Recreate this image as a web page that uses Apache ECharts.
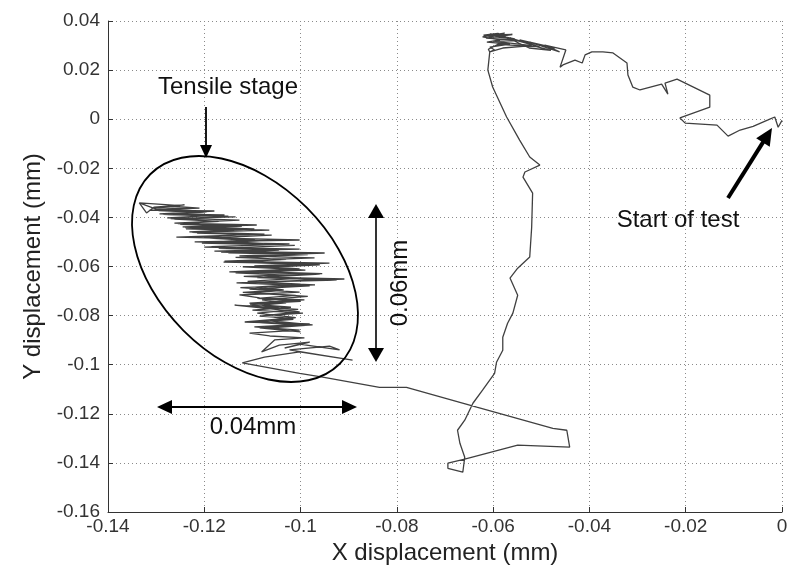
<!DOCTYPE html>
<html>
<head>
<meta charset="utf-8">
<script src="https://cdn.jsdelivr.net/npm/echarts@6/dist/echarts.min.js"></script>
<style>html,body{margin:0;padding:0;background:#fff}#c{width:791px;height:574px}</style>
</head>
<body>
<div id="c"></div>
<script>
// ---- axis definition ----
const xTickLabels = ['-0.14','-0.12','-0.1','-0.08','-0.06','-0.04','-0.02','0'];
const yTickLabels = ['-0.16','-0.14','-0.12','-0.1','-0.08','-0.06','-0.04','-0.02','0','0.02','0.04'];
const xTitle = 'X displacement (mm)';
const yTitle = 'Y displacement (mm)';

// ---- trajectory (x mm, y mm) ----
const startSeg = [
  [0.0000,-0.0005],[-0.0008,-0.0033],[-0.0015,0.0009],[-0.0029,-0.0003],[-0.0060,-0.0029],
  [-0.0087,-0.0044],[-0.0112,-0.0069],[-0.0135,-0.0024],[-0.0201,-0.0016],[-0.0212,0.0005],
  [-0.0150,0.0049],[-0.0150,0.0098],[-0.0218,0.0163],[-0.0243,0.0147],[-0.0237,0.0102],
  [-0.0250,0.0143],[-0.0295,0.0119],[-0.0310,0.0131],[-0.0320,0.0180],[-0.0322,0.0229],
  [-0.0351,0.0270],[-0.0372,0.0274],[-0.0395,0.0274],[-0.0409,0.0262],[-0.0415,0.0229],
  [-0.0430,0.0241],[-0.0455,0.0221],[-0.0461,0.0212]
];
const topCluster = [
  [-0.0449,0.0282],[-0.0493,0.0302],[-0.0462,0.0274],[-0.0524,0.0314],[-0.0472,0.0290],
  [-0.0545,0.0323],[-0.0503,0.0294],[-0.0565,0.0331],[-0.0524,0.0306],[-0.0586,0.0339],
  [-0.0538,0.0314],[-0.0607,0.0347],[-0.0555,0.0327],[-0.0617,0.0339],[-0.0576,0.0351],
  [-0.0622,0.0335],[-0.0586,0.0323],[-0.0613,0.0314],[-0.0565,0.0306],[-0.0607,0.0294],
  [-0.0597,0.0282],[-0.0607,0.0274],[-0.0580,0.0290],[-0.0520,0.0300],[-0.0600,0.0318],
  [-0.0540,0.0320],[-0.0615,0.0330],[-0.0560,0.0345],[-0.0620,0.0342],[-0.0590,0.0350],
  [-0.0525,0.0290],[-0.0480,0.0280],[-0.0510,0.0296],[-0.0590,0.0305],[-0.0610,0.0285],
  [-0.0607,0.0274]
];
const descentSeg = [
  [-0.0611,0.0200],[-0.0601,0.0131],[-0.0572,0.0009],[-0.0545,-0.0085],[-0.0524,-0.0154],
  [-0.0503,-0.0187],[-0.0534,-0.0215],[-0.0538,-0.0236],[-0.0518,-0.0301],[-0.0520,-0.0441],
  [-0.0524,-0.0561],[-0.0549,-0.0607],[-0.0565,-0.0647],[-0.0549,-0.0717],[-0.0559,-0.0790],
  [-0.0570,-0.0831],[-0.0580,-0.0888],[-0.0580,-0.0941],[-0.0593,-0.0990],[-0.0597,-0.1035],
  [-0.0622,-0.1104],[-0.0642,-0.1157],[-0.0659,-0.1226],[-0.0674,-0.1267],[-0.0669,-0.1320],
  [-0.0659,-0.1377],[-0.0663,-0.1438],[-0.0694,-0.1422],[-0.0694,-0.1401],[-0.0659,-0.1385]
];
const returnSeg = [
  [-0.0549,-0.1328],[-0.0441,-0.1336],[-0.0447,-0.1267],[-0.0476,-0.1259],[-0.0634,-0.1173],
  [-0.0780,-0.1092],[-0.0836,-0.1092],[-0.0954,-0.1051],[-0.1002,-0.1035],[-0.1121,-0.0993]
];
// tensile stage: up the band, back down to the middle, up again to the tip
const tensileUp1 = [
  [-0.1075,-0.0969],[-0.1002,-0.0948],[-0.0892,-0.0981],[-0.0960,-0.0960],[-0.1023,-0.0940],
  [-0.0940,-0.0924],[-0.0919,-0.0940],[-0.1002,-0.0916],[-0.1033,-0.0932],[-0.0981,-0.0908],
  [-0.1044,-0.0920],[-0.1081,-0.0948],[-0.1054,-0.0899],[-0.0992,-0.0891],[-0.1064,-0.0883],
  [-0.1106,-0.0871],[-0.1002,-0.0859],[-0.1096,-0.0846],[-0.0981,-0.0834],[-0.1116,-0.0826],
  [-0.1023,-0.0810],[-0.1085,-0.0802],[-0.1002,-0.0785],[-0.1137,-0.0757],[-0.1044,-0.0769],
  [-0.1106,-0.0749],[-0.0992,-0.0736],[-0.1085,-0.0728],[-0.1127,-0.0716],[-0.1002,-0.0704],
  [-0.1106,-0.0692],[-0.0981,-0.0679],[-0.1133,-0.0667],[-0.0909,-0.0651],[-0.1075,-0.0643],
  [-0.0960,-0.0631],[-0.1148,-0.0622],[-0.1002,-0.0610],[-0.1096,-0.0598],[-0.0940,-0.0586],
  [-0.1158,-0.0578],[-0.0971,-0.0565],[-0.1127,-0.0557],[-0.0950,-0.0545],[-0.1179,-0.0537],
  [-0.1002,-0.0529],[-0.1200,-0.0521],[-0.1023,-0.0508],[-0.1220,-0.0500],[-0.1002,-0.0492],
  [-0.1258,-0.0480],[-0.1075,-0.0468],[-0.1231,-0.0459],[-0.1096,-0.0447],[-0.1245,-0.0439],
  [-0.1091,-0.0431],[-0.1262,-0.0423],[-0.1127,-0.0411],[-0.1277,-0.0402],[-0.1158,-0.0390],
  [-0.1293,-0.0386],[-0.1179,-0.0374],[-0.1314,-0.0370],[-0.1210,-0.0362],[-0.1268,-0.0354],
  [-0.1241,-0.0349],[-0.1304,-0.0358],[-0.1320,-0.0382],[-0.1335,-0.0341]
];
const tensileDown = [
  [-0.1300,-0.0366],[-0.1195,-0.0378],[-0.1282,-0.0389],[-0.1150,-0.0395],[-0.1262,-0.0407],
  [-0.1180,-0.0415],[-0.1250,-0.0428],[-0.1122,-0.0436],[-0.1238,-0.0447],[-0.1140,-0.0452],
  [-0.1215,-0.0464],[-0.1060,-0.0472],[-0.1190,-0.0484],[-0.1085,-0.0496],[-0.1205,-0.0505],
  [-0.1012,-0.0514],[-0.1170,-0.0526],[-0.1045,-0.0533],[-0.1150,-0.0544],[-0.0985,-0.0552],
  [-0.1135,-0.0563],[-0.1030,-0.0571],[-0.1160,-0.0582],[-0.0965,-0.0590],[-0.1120,-0.0601],
  [-0.1010,-0.0612],[-0.1105,-0.0620],[-0.0955,-0.0629],[-0.1118,-0.0640],[-0.1015,-0.0649],
  [-0.1110,-0.0661],[-0.1000,-0.0672],[-0.1095,-0.0684],[-0.1035,-0.0695],[-0.1120,-0.0705],
  [-0.1010,-0.0718],[-0.1090,-0.0730],[-0.1000,-0.0742],[-0.1105,-0.0753],[-0.1020,-0.0766],
  [-0.1100,-0.0778],[-0.0995,-0.0790],[-0.1080,-0.0801],[-0.1015,-0.0815],[-0.1095,-0.0828],
  [-0.0990,-0.0840],[-0.1075,-0.0852],[-0.1000,-0.0866]
];
const tensileUp2 = [
  [-0.1085,-0.0850],[-0.0975,-0.0838],[-0.1060,-0.0822],[-0.1010,-0.0808],[-0.1090,-0.0790],
  [-0.1005,-0.0775],[-0.1112,-0.0762],[-0.1030,-0.0748],[-0.1080,-0.0736],[-0.0985,-0.0722],
  [-0.1100,-0.0708],[-0.1040,-0.0697],[-0.1125,-0.0686],[-0.0970,-0.0675],[-0.1100,-0.0664],
  [-0.0925,-0.0655],[-0.1090,-0.0645],[-0.1020,-0.0636],[-0.1135,-0.0626],[-0.0990,-0.0615],
  [-0.1080,-0.0604],[-0.0960,-0.0593],[-0.1140,-0.0582],[-0.1040,-0.0572],[-0.1125,-0.0560],
  [-0.0990,-0.0550],[-0.1165,-0.0541],[-0.1060,-0.0531],[-0.1185,-0.0519],[-0.1040,-0.0510],
  [-0.1160,-0.0498],[-0.1095,-0.0490],[-0.1200,-0.0478],[-0.1110,-0.0470],[-0.1225,-0.0461],
  [-0.1065,-0.0452],[-0.1240,-0.0442],[-0.1150,-0.0434],[-0.1255,-0.0425],[-0.1170,-0.0416],
  [-0.1270,-0.0405],[-0.1135,-0.0398],[-0.1285,-0.0388],[-0.1200,-0.0380],[-0.1295,-0.0372],
  [-0.1225,-0.0364],[-0.1305,-0.0360],[-0.1250,-0.0352],[-0.1335,-0.0341]
];

const trajectory = [].concat(startSeg, topCluster, descentSeg, returnSeg, tensileUp1, tensileDown, tensileUp2);

const chart = echarts.init(document.getElementById('c'), null, {renderer:'canvas'});
const FONT = '"Liberation Sans", Arial, sans-serif';
const fmt = v => (+v.toFixed(2)).toString();

function arrowHead(tip, dir, len, half) {
  const ux = dir[0], uy = dir[1];
  const bx = tip[0] - ux * len, by = tip[1] - uy * len;
  return [[tip[0], tip[1]], [bx - uy * half, by + ux * half], [bx + uy * half, by - ux * half]];
}
function norm(a, b) { const dx = b[0]-a[0], dy = b[1]-a[1], l = Math.hypot(dx, dy); return [dx/l, dy/l]; }

const sTail = [728, 198], sTip = [772, 128];
const sDir = norm(sTail, sTip);

const option = {
  backgroundColor: '#ffffff',
  animation: false,
  grid: { left: 108, right: 9, top: 21, bottom: 62, containLabel: false },
  xAxis: {
    type: 'value', min: -0.14, max: 0, interval: 0.02,
    name: xTitle, nameLocation: 'middle', nameGap: 28,
    nameTextStyle: { fontFamily: FONT, fontSize: 24, color: '#222' },
    axisLine: { show: true, onZero: false, lineStyle: { color: '#333', width: 1 } },
    axisTick: { show: true, inside: true, length: 5, lineStyle: { color: '#333' } },
    axisLabel: { fontFamily: FONT, fontSize: 19, color: '#333', margin: 5,
      formatter: (v) => xTickLabels.find(t => Math.abs(parseFloat(t) - v) < 1e-9) || fmt(v) },
    splitLine: { show: true, lineStyle: { color: '#8a8a8a', width: 1, type: [1, 3] } }
  },
  yAxis: {
    type: 'value', min: -0.16, max: 0.04, interval: 0.02,
    name: yTitle, nameLocation: 'middle', nameGap: 60,
    nameTextStyle: { fontFamily: FONT, fontSize: 24, color: '#222', padding: [0, 0, 0, 0] },
    axisLine: { show: true, onZero: false, lineStyle: { color: '#333', width: 1 } },
    axisTick: { show: true, inside: true, length: 5, lineStyle: { color: '#333' } },
    axisLabel: { fontFamily: FONT, fontSize: 19, color: '#333', margin: 8,
      formatter: (v) => yTickLabels.find(t => Math.abs(parseFloat(t) - v) < 1e-9) || fmt(v) },
    splitLine: { show: true, lineStyle: { color: '#8a8a8a', width: 1, type: [1, 3] } }
  },
  series: [{
    type: 'line', data: trajectory, showSymbol: false, smooth: false,
    lineStyle: { color: '#404040', width: 1.3 }, z: 3
  }],
  graphic: [
    { type: 'ellipse', x: 245, y: 269, rotation: -Math.PI / 4,
      shape: { cx: 0, cy: 0, rx: 134, ry: 87 },
      style: { fill: 'none', stroke: '#000', lineWidth: 1.8 }, z: 10 },
    { type: 'text', x: 228, y: 87, style: { text: 'Tensile stage', font: '24px ' + FONT, fill: '#111', align: 'center', verticalAlign: 'middle' }, z: 10 },
    { type: 'line', shape: { x1: 206, y1: 107, x2: 206, y2: 148 }, style: { stroke: '#000', lineWidth: 1.8 }, z: 10 },
    { type: 'polygon', shape: { points: arrowHead([206, 158], [0, 1], 13, 6) }, style: { fill: '#000' }, z: 10 },
    { type: 'line', shape: { x1: 376, y1: 212, x2: 376, y2: 354 }, style: { stroke: '#000', lineWidth: 1.6 }, z: 10 },
    { type: 'polygon', shape: { points: arrowHead([376, 204], [0, -1], 14, 8) }, style: { fill: '#000' }, z: 10 },
    { type: 'polygon', shape: { points: arrowHead([376, 362], [0, 1], 14, 8) }, style: { fill: '#000' }, z: 10 },
    { type: 'text', x: 400, y: 283, rotation: Math.PI / 2, style: { text: '0.06mm', font: '24px ' + FONT, fill: '#111', align: 'center', verticalAlign: 'middle' }, z: 10 },
    { type: 'line', shape: { x1: 165, y1: 407, x2: 349, y2: 407 }, style: { stroke: '#000', lineWidth: 2 }, z: 10 },
    { type: 'polygon', shape: { points: arrowHead([157, 407], [-1, 0], 15, 7) }, style: { fill: '#000' }, z: 10 },
    { type: 'polygon', shape: { points: arrowHead([357, 407], [1, 0], 15, 7) }, style: { fill: '#000' }, z: 10 },
    { type: 'text', x: 253, y: 427, style: { text: '0.04mm', font: '24px ' + FONT, fill: '#111', align: 'center', verticalAlign: 'middle' }, z: 10 },
    { type: 'line', shape: { x1: sTail[0], y1: sTail[1], x2: sTip[0] - sDir[0] * 12, y2: sTip[1] - sDir[1] * 12 }, style: { stroke: '#000', lineWidth: 4 }, z: 10 },
    { type: 'polygon', shape: { points: arrowHead(sTip, sDir, 17, 8) }, style: { fill: '#000' }, z: 10 },
    { type: 'text', x: 678, y: 220, style: { text: 'Start of test', font: '24px ' + FONT, fill: '#111', align: 'center', verticalAlign: 'middle' }, z: 10 }
  ]
};
chart.setOption(option);
</script>
</body>
</html>
